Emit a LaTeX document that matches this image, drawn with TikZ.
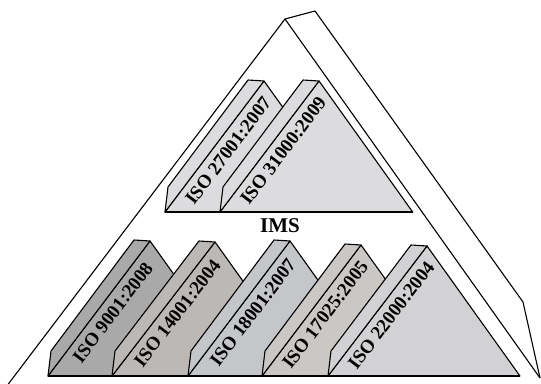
\documentclass[tikz,border=0pt]{standalone}
\usepackage{fontspec}
\setmainfont{Liberation Serif}
\definecolor{cUp}{HTML}{DCDCDE}
\definecolor{cMa}{HTML}{A9A9A9}
\definecolor{cMb}{HTML}{BCB8B5}
\definecolor{cMc}{HTML}{C4C6C9}
\definecolor{cMd}{HTML}{CAC7C4}
\definecolor{cMe}{HTML}{D2D2D4}
% #1 name, #2 base-left x, #3 apex x, #4 apex y, #5 base y, #6 colour, #7 text
\newcommand\mymtn[7]{%
  \pgfmathsetmacro\mtnR{#3+(#5-#4)*0.715}%
  \coordinate (#1L) at (#2,#5);
  \coordinate (#1A) at (#3,#4);
  \coordinate (#1R) at (\mtnR,#5);
  \coordinate (#1B) at (#3-16,#4-1);
  \coordinate (#1S) at (#2+3,#5-25);
  \filldraw[face, fill=#6] (#1L) -- (#1A) -- (#1R) -- cycle;
  \filldraw[face, fill=#6] (#1L) -- (#1S) -- (#1B) -- (#1A) -- cycle;
  \path (#1L) -- (#1A) node[isotext, pos=0.53] (#1T) {#7};
}
\begin{document}
\begin{tikzpicture}[x=1pt,y=-1pt,line join=round,
  face/.style={draw=black, line width=1.1pt},
  outline/.style={draw=black, line width=1.1pt},
  isotext/.style={sloped, anchor=north, inner sep=0pt, outer sep=7pt,
    font=\fontsize{19}{19}\selectfont\bfseries},
  imstext/.style={font=\fontsize{21}{21}\selectfont\bfseries, inner sep=0pt}]
\useasboundingbox (0,0) rectangle (541,383);
\clip (0,0) rectangle (541,383);
% outer pyramid
\coordinate (apex) at (285,19);
\coordinate (apexback) at (315,11);
\coordinate (leftfoot) at (0,395);
\coordinate (rightfoot) at (540,378);
\coordinate (backknee) at (523,302);
\draw[outline] (leftfoot) -- (apex) -- (rightfoot);
\draw[outline] (apex) -- (apexback) -- (backknee) -- (rightfoot);
% upper group
\mymtn{ua}{165}{264}{81}{212}{cUp}{ISO 27001:2007}
\mymtn{ub}{220}{319}{81}{212}{cUp}{ISO 31000:2009}
% lower group
\mymtn{ma}{48}{150}{241}{376}{cMa}{ISO 9001:2008}
\mymtn{mb}{112}{215}{242}{376}{cMb}{ISO 14001:2004}
\mymtn{mc}{188}{290}{241}{376}{cMc}{ISO 18001:2007}
\mymtn{md}{262}{361}{245}{376}{cMd}{ISO 17025:2005}
\mymtn{me}{328}{427}{246}{376}{cMe}{ISO 22000:2004}
\draw[outline] (uaL) -- (ubR);
\draw[outline] (maL) -- (meR);
\node[imstext] (ims) at (280,226) {IMS};
\end{tikzpicture}
\end{document}
